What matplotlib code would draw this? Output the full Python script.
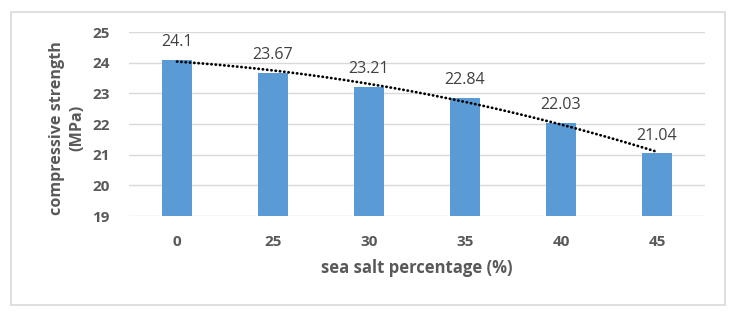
import numpy as np
import matplotlib.pyplot as plt
from matplotlib.patches import Rectangle

categories = ['0', '25', '30', '35', '40', '45']
strength = [24.1, 23.67, 23.21, 22.84, 22.03, 21.04]
y_ticks = [19, 20, 21, 22, 23, 24, 25]

plt.rcParams['font.family'] = ['Open Sans', 'DejaVu Sans']

fig = plt.figure(figsize=(7.36, 3.17), dpi=100)
ax = fig.add_axes([0.1753, 0.3186, 0.7826, 0.5804])

x = np.arange(len(categories))
ax.bar(x, strength, width=0.31, color='#5B9BD5', zorder=2)

# polynomial trendline (order 2), like Excel
coef = np.polyfit(x + 1, strength, 2)
xs = np.linspace(0, len(categories) - 1, 300)
ax.plot(xs, np.polyval(coef, xs + 1), color='black', linestyle=(0, (0.1, 1.45)),
        linewidth=2.0, dash_capstyle='round', zorder=3)

for xi, v in zip(x, strength):
    ax.annotate(f'{v:g}', (xi, v), xytext=(0, 10), textcoords='offset points',
                ha='center', va='baseline', fontsize=11.5, color='#404040',
                zorder=4)

ax.set_xlim(-0.5, len(categories) - 0.5)
ax.set_ylim(19, 25)
ax.set_yticks(y_ticks)
ax.set_xticks(x)
ax.set_xticklabels(categories)
ax.grid(axis='y', color='#D9D9D9', linewidth=1, zorder=0)
ax.set_axisbelow(True)
for s in ax.spines.values():
    s.set_visible(False)
ax.tick_params(length=0, labelsize=11, labelcolor='#595959')
ax.tick_params(axis='y', pad=14)
ax.tick_params(axis='x', pad=14)
for lab in ax.get_xticklabels() + ax.get_yticklabels():
    lab.set_fontweight('bold')

ax.set_xlabel('sea salt percentage (%)', fontsize=12, fontweight='bold',
              color='#595959', labelpad=7)
ax.set_ylabel('compressive strength\n(MPa)', fontsize=11.6, fontweight='bold',
              color='#595959', linespacing=1.4, va='center')
ax.yaxis.set_label_coords(-0.107, 0.48)

fig.patches.append(Rectangle((11 / 736, 12 / 317), 714 / 736, 293 / 317,
                             transform=fig.transFigure, fill=False,
                             edgecolor='#D9D9D9', linewidth=1.2))

fig.savefig('out.png', dpi=100)
